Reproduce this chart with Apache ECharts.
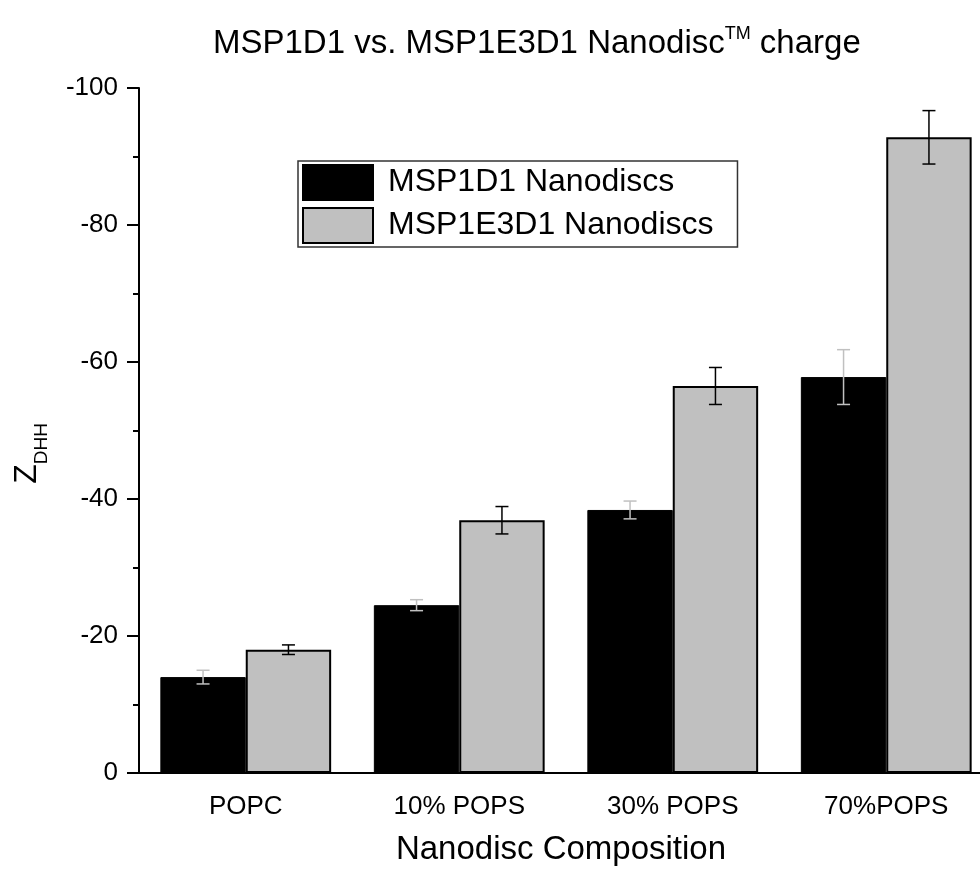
<!DOCTYPE html>
<html lang="en">
<head>
	<meta charset="UTF-8">
	<title>MSP1D1 vs MSP1E3D1</title>
	<script src="https://cdn.jsdelivr.net/npm/echarts@6/dist/echarts.min.js"></script>
	<style>
		html, body { margin: 0; padding: 0; background: #fff; }
	</style>
</head>
<body>
	<div id="chart" style="width: 980px;height: 875px;"></div>
	<script>
		var categories = ['POPC', '10% POPS', '30% POPS', '70%POPS'];
		var msp1d1 = [-14.0, -24.5, -38.4, -57.8];
		var msp1d1Err = [1.0, 0.8, 1.3, 4.0];
		var msp1e3d1 = [-18.0, -36.9, -56.5, -92.8];
		var msp1e3d1Err = [0.7, 2.0, 2.7, 3.9];

		var font = 'Liberation Sans, Arial, sans-serif';

		function errData(vals, errs) {
			return vals.map(function (v, i) {
				return [i, v - errs[i], v + errs[i]];
			});
		}

		// draws error bars shifted to the left/right bar of each pair
		function errRenderer(side, color) {
			return function (params, api) {
				var xi = api.value(0);
				var lo = api.coord([xi, api.value(1)]);
				var hi = api.coord([xi, api.value(2)]);
				var band = api.size([1, 0])[0];
				var x = lo[0] + side * band * 0.8 / 4;
				var half = 6.5;
				var style = { stroke: color, lineWidth: 1.5 };
				return {
					type: 'group',
					children: [
						{ type: 'line', shape: { x1: x, y1: lo[1], x2: x, y2: hi[1] }, style: style },
						{ type: 'line', shape: { x1: x - half, y1: lo[1], x2: x + half, y2: lo[1] }, style: style },
						{ type: 'line', shape: { x1: x - half, y1: hi[1], x2: x + half, y2: hi[1] }, style: style }
					]
				};
			};
		}

		var option = {
			backgroundColor: '#fff',
			animation: false,
			textStyle: { fontFamily: font },
			title: {
				text: '{a|MSP1D1 vs. MSP1E3D1 Nanodisc}{sup|TM}{a| charge}',
				left: 208,
				top: 20,
				textStyle: {
					rich: {
						a: { fontSize: 33, fontWeight: 'normal', fontFamily: font, color: '#000', verticalAlign: 'bottom' },
						sup: { fontSize: 18, fontWeight: 'normal', fontFamily: font, color: '#000', verticalAlign: 'bottom', padding: [0, 0, 17, 0] }
					}
				}
			},
			legend: {
				data: [
					{ name: 'MSP1D1 Nanodiscs', itemStyle: { color: '#000', borderColor: '#000', borderWidth: 2 } },
					{ name: 'MSP1E3D1 Nanodiscs', itemStyle: { color: '#c0c0c0', borderColor: '#000', borderWidth: 2 } }
				],
				orient: 'vertical',
				left: 298,
				top: 161,
				icon: 'rect',
				itemWidth: 70,
				itemHeight: 35,
				itemGap: 6,
				padding: [3, 24, 3, 4],
				borderColor: '#333',
				borderWidth: 1.5,
				textStyle: { fontSize: 32, color: '#000', lineHeight: 35, padding: [0, 0, 0, 10], fontFamily: font }
			},
			grid: {
				left: 139,
				top: 88,
				width: 854,
				bottom: 102,
				outerBoundsMode: 'none'
			},
			xAxis: [{
				type: 'category',
				data: categories,
				name: 'Nanodisc Composition',
				nameLocation: 'middle',
				nameGap: 60,
				nameTextStyle: { fontSize: 33, color: '#000', fontFamily: font, padding: [0, 10, 0, 0] },
				axisLine: { lineStyle: { color: '#000', width: 2 } },
				axisTick: { alignWithLabel: true, length: 12, lineStyle: { color: '#000', width: 2 } },
				axisLabel: { fontSize: 26, color: '#000', margin: 21, fontFamily: font }
			}, {
				type: 'category',
				data: categories,
				position: 'bottom',
				offset: 0,
				axisLine: { show: false },
				axisTick: { alignWithLabel: false, length: 6, lineStyle: { color: '#000', width: 2 } },
				axisLabel: { show: false }
			}],
			yAxis: {
				type: 'value',
				min: -100,
				max: 0,
				interval: 20,
				inverse: true,
				name: '{z|Z}{s|DHH}',
				nameLocation: 'middle',
				nameGap: 88,
				nameTextStyle: {
					padding: [0, 46, 0, 0],
					rich: {
						z: { fontSize: 32, color: '#000', fontFamily: font, verticalAlign: 'bottom', padding: [0, 0, 8, 0] },
						s: { fontSize: 19, color: '#000', fontFamily: font, verticalAlign: 'bottom' }
					}
				},
				splitLine: { show: false },
				axisLine: { show: true, lineStyle: { color: '#000', width: 2 } },
				axisTick: { show: true, length: 12, lineStyle: { color: '#000', width: 2 } },
				minorTick: { show: true, splitNumber: 2, length: 6, lineStyle: { color: '#000', width: 2 } },
				axisLabel: { fontSize: 26, color: '#000', margin: 21, fontFamily: font }
			},
			series: [{
				name: 'MSP1D1 Nanodiscs',
				type: 'bar',
				data: msp1d1,
				barGap: '0%',
				barCategoryGap: '20%',
				itemStyle: { color: '#000', borderColor: '#000', borderWidth: 1 }
			}, {
				name: 'MSP1E3D1 Nanodiscs',
				type: 'bar',
				data: msp1e3d1,
				barGap: '0%',
				barCategoryGap: '20%',
				itemStyle: { color: '#c0c0c0', borderColor: '#000', borderWidth: 2 }
			}, {
				type: 'custom',
				name: 'err1',
				z: 10,
				data: errData(msp1d1, msp1d1Err),
				encode: { x: 0, y: [1, 2] },
				renderItem: errRenderer(-1, '#c0c0c0')
			}, {
				type: 'custom',
				name: 'err2',
				z: 10,
				data: errData(msp1e3d1, msp1e3d1Err),
				encode: { x: 0, y: [1, 2] },
				renderItem: errRenderer(1, '#000')
			}]
		};

		var myChart = echarts.init(document.getElementById('chart'));
		myChart.setOption(option);
	</script>
</body>
</html>
